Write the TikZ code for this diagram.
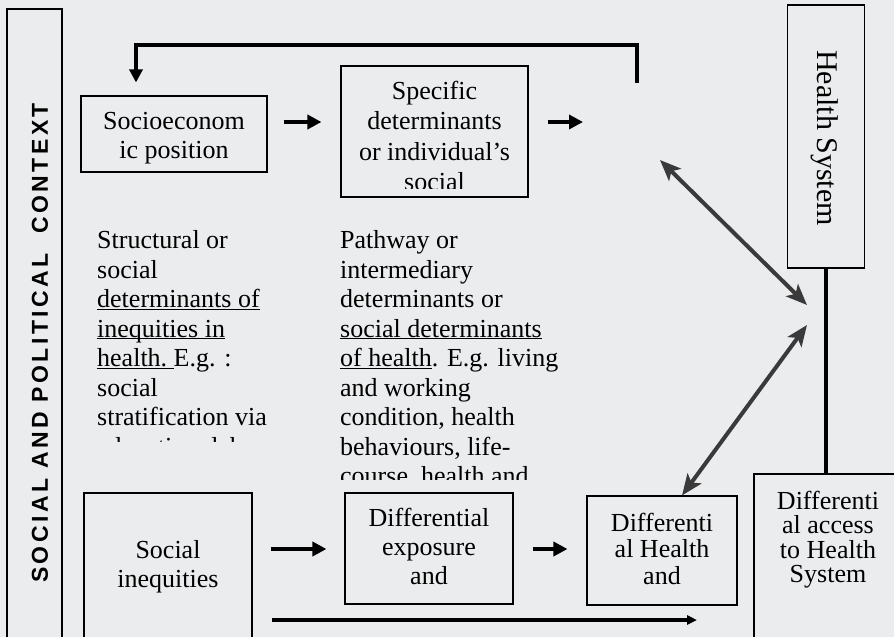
\documentclass[tikz,border=0pt]{standalone}
\usepackage{fontspec}
\setmainfont{Liberation Serif}
\newfontfamily\ctxfont[LetterSpace=15]{Liberation Sans}
\usetikzlibrary{arrows.meta,positioning}
\definecolor{PaperClr}{RGB}{235,236,237}
\definecolor{LinkClr}{RGB}{58,58,58}
\newcommand{\undl}[1]{\underline{\smash{#1}}}

\tikzset{
  box/.style={draw,line width=1.1pt,inner sep=0pt},
  lbl/.style={font=\fontsize{26}{29}\selectfont,align=center,inner sep=0pt,anchor=base},
  blk/.style={font=\fontsize{26}{29.5}\selectfont,align=left,inner sep=0pt,anchor=base west},
  flow/.style={line width=4pt,-{Triangle[length=14pt,width=14pt]}},
  link/.style={draw=LinkClr,line width=4pt,{Stealth[length=21pt,width=17pt,inset=5pt]}-{Stealth[length=21pt,width=17pt,inset=5pt]}},
  rule/.style={line width=3.5pt}
}

\begin{document}
\begin{tikzpicture}[x=1pt,y=-1pt]
\useasboundingbox (0,0) rectangle (894,637);
\fill[PaperClr] (0,0) rectangle (894,637);

% frames
\node[box,minimum width=55pt,minimum height=641pt] (ctx) at (34.5,329.5) {};
\node[box,minimum width=186pt,minimum height=76pt] (socio) at (174,134) {};
\node[box,minimum width=187pt,minimum height=131pt] (spec) at (434.5,131.5) {};
\node[box,minimum width=77pt,minimum height=263pt] (hsys) at (826,136.5) {};
\node[box,minimum width=168pt,minimum height=157pt] (socin) at (168,571.5) {};
\node[box,minimum width=168pt,minimum height=111pt] (expo) at (429,548.5) {};
\node[box,minimum width=150pt,minimum height=109pt] (dhlth) at (662,550.5) {};
\node[box,minimum width=148pt,minimum height=176pt] (access) at (828,562) {};

% texts in the frames (anchored at the last baseline)
\node[rotate=90,inner sep=0pt,font=\ctxfont\bfseries\fontsize{23}{23}\selectfont] (ctxtxt) at (40,343) {SOCIAL AND POLITICAL\ \ CONTEXT};
\begin{scope}
\clip ([yshift=9pt]socio.south west) rectangle (socio.north east);
\node[lbl] (sociotxt) at ([yshift=-63pt]socio.north) {Socioeconom\\ic position};
\end{scope}
\begin{scope}
\clip ([yshift=9pt]spec.south west) rectangle (spec.north east);
\node[lbl,font=\fontsize{26}{30.3}\selectfont] (spectxt) at ([yshift=-125pt]spec.north) {Specific\\determinants\\or individual's\\social};
\end{scope}
\node[rotate=-90,inner sep=0pt,font=\fontsize{30}{30}\selectfont] (hsystxt) at (825,138) {Health System};
\node[lbl] (socintxt) at (168,587) {Social\\inequities};
\node[lbl] (expotxt) at ([yshift=-92pt]expo.north) {Differential\\exposure\\and};
\node[lbl,font=\fontsize{26}{26.5}\selectfont] (dhlthtxt) at ([yshift=-89pt]dhlth.north) {Differenti\\al Health\\and};
\node[lbl,font=\fontsize{26}{24.5}\selectfont] (accesstxt) at ([yshift=-109.5pt]access.north) {Differenti\\al access\\to Health\\System};

% the two columns of notes
\begin{scope}
\clip (90,200) rectangle (330,441);
\node[blk] (structtxt) at (97,455) {Structural or\\social\\\undl{determinants of}\\\undl{inequities in}\\\undl{health.\ }E.g. :\\social\\stratification via\\education, labour};
\end{scope}
\begin{scope}
\clip (330,200) rectangle (600,479);
\node[blk] (pathtxt) at (340,484.5) {Pathway or\\intermediary\\determinants or\\\undl{social determinants}\\\undl{of health}. E.g. living\\and working\\condition, health\\behaviours, life-\\course, health and};
\end{scope}

% free ends
\coordinate (fbs) at (637,83);
\coordinate (spece) at (583,122);
\coordinate (hsa) at (660,160);
\coordinate (hsb) at (807,305);
\coordinate (hsc) at (807,325);
\coordinate (bots) at (272,620);
\coordinate (bote) at (697,620);
\coordinate (rowa) at (0,122);
\coordinate (rowb) at (0,549);

% connectors
\draw[rule,-{Triangle[length=13pt,width=13pt]}] (fbs) -- ++(0,-38) -| ([xshift=-38pt,yshift=13pt]socio.north);
\draw[flow,shorten <=16pt,shorten >=19pt] (socio.east |- rowa) -- (spec.west |- rowa);
\draw[flow,shorten <=19pt] (spec.east |- rowa) -- (spece);
\draw[link] (hsa) -- (hsb);
\draw[link] (hsc) -- ([xshift=20pt]dhlth.north);
\draw[rule] (hsys.south) -- (hsys.south |- access.north);
\draw[flow,shorten <=18pt,shorten >=18pt] (socin.east |- rowb) -- (expo.west |- rowb);
\draw[flow,shorten <=19pt,shorten >=19pt] (expo.east |- rowb) -- (dhlth.west |- rowb);
\draw[line width=4pt,-{Triangle[length=10pt,width=9pt]}] (bots) -- (bote);
\end{tikzpicture}
\end{document}
